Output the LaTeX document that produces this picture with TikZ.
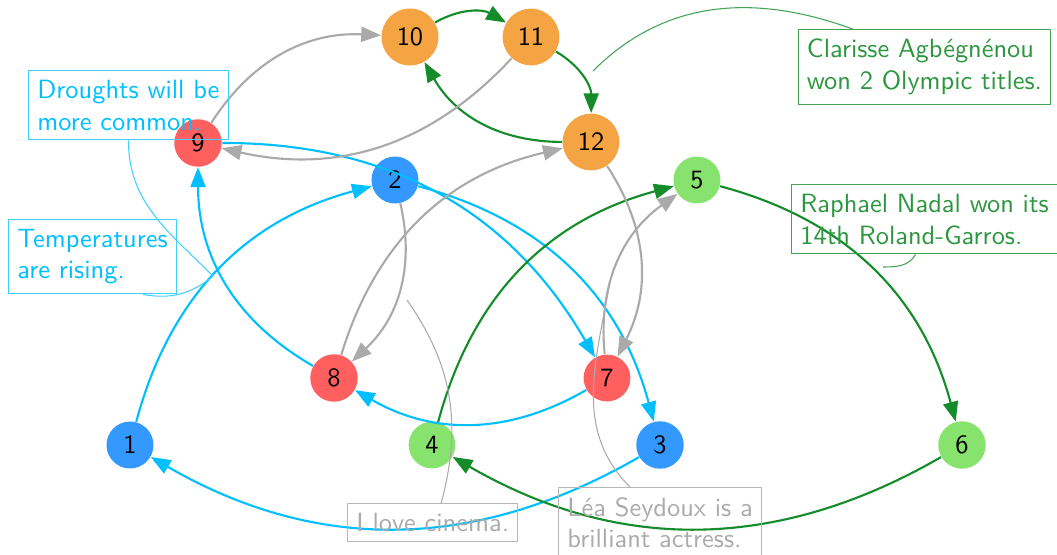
\documentclass[tikz,border=0pt]{standalone}
\usetikzlibrary{arrows.meta}
\definecolor{nblue}{RGB}{51,153,255}
\definecolor{ngreen}{RGB}{135,226,110}
\definecolor{nred}{RGB}{255,95,95}
\definecolor{norange}{RGB}{244,164,66}
\definecolor{ecyan}{RGB}{0,191,255}
\definecolor{egreen}{RGB}{20,140,42}
\definecolor{egray}{RGB}{170,170,170}
\begin{document}
\begin{tikzpicture}[x=0.3788pt,y=0.3788pt,
  vert/.style={circle,inner sep=3.35pt,font=\sffamily},
  edgebase/.style={line width=0.8pt,-{Triangle[length=7.5pt,width=5.7pt]}},
  ecy/.style={edgebase,draw=ecyan},
  egr/.style={edgebase,draw=egreen},
  egy/.style={edgebase,draw=egray},
  note/.style={draw,line width=0.45pt,align=left,inner xsep=3.33pt,inner ysep=3.6pt,
    font=\sffamily,anchor=north west},
  notecy/.style={note,draw=ecyan!75,text=ecyan},
  notegr/.style={note,draw=egreen!80,text=egreen!90},
  notegy/.style={note,draw=egray!85,text=egray},
  pl/.style={line width=0.4pt}]
\useasboundingbox (0,0) rectangle (1057,-555);
% vertices
\node[vert,fill=nblue] (n1) at (130,-445) {1};
\node[vert,fill=nblue] (n2) at (395,-180) {2};
\node[vert,fill=nblue] (n3) at (660,-445) {3};
\node[vert,fill=ngreen] (n4) at (432,-445) {4};
\node[vert,fill=ngreen] (n5) at (697,-180) {5};
\node[vert,fill=ngreen] (n6) at (962,-445) {6};
\node[vert,fill=nred] (n7) at (607,-378) {7};
\node[vert,fill=nred] (n8) at (334,-378) {8};
\node[vert,fill=nred] (n9) at (198,-143) {9};
\node[vert,fill=norange] (n10) at (410,-37) {10};
\node[vert,fill=norange] (n11) at (531,-37) {11};
\node[vert,fill=norange] (n12) at (591,-142) {12};
% edges
\draw[ecy] (n1) to[bend left] (n2);
\draw[ecy] (n2) to[bend left] (n3);
\draw[ecy] (n3) to[bend left] (n1);
\draw[ecy] (n7) to[bend left] (n8);
\draw[ecy] (n8) to[bend left] (n9);
\draw[ecy] (n9) to[bend left] (n7);
\draw[egr] (n4) to[bend left] (n5);
\draw[egr] (n5) to[bend left] (n6);
\draw[egr] (n6) to[bend left] (n4);
\draw[egr] (n10) to[bend left] (n11);
\draw[egr] (n11) to[bend left] (n12);
\draw[egr] (n12) to[bend left] (n10);
\draw[egy] (n9) to[bend left] (n10);
\draw[egy] (n11) to[bend left] (n9);
\draw[egy] (n2) to[bend left] (n8);
\draw[egy] (n8) to[bend left] (n12);
\draw[egy] (n12) to[bend left] (n7);
\draw[egy] (n7) to[bend left] (n5);
% notes
\node[notecy] (dr) at (28,-70) {Droughts will be\\more common.};
\node[notecy] (te) at (8,-219) {Temperatures\\are rising.};
\node[notegr] (cl) at (797.5,-29) {Clarisse Agbégnénou\\won 2 Olympic titles.};
\node[notegr] (na) at (791,-184) {Raphael Nadal won its\\14th Roland-Garros.};
\node[notegy] (ci) at (347,-503) {I love cinema.};
\node[notegy] (le) at (558,-487) {Léa Seydoux is a\\brilliant actress.};
% note pointers
\coordinate (p1) at (213,-276);
\coordinate (p2) at (593,-71);
\coordinate (p3) at (883,-267);
\coordinate (p4) at (407,-300);
\coordinate (p5) at (610,-282);
\draw[pl,draw=ecyan!75] (dr.south) to[out=-90,in=135] (p1);
\draw[pl,draw=ecyan!75] ([xshift=19.1pt]te.south) to[out=-10,in=-140] (p1);
\draw[pl,draw=egreen!80] ([xshift=-27.2pt]cl.north) to[out=160,in=45] (p2);
\draw[pl,draw=egreen!80] ([xshift=-3.4pt]na.south) to[out=-120,in=0] (p3);
\draw[pl,draw=egray] ([xshift=3.2pt]ci.north) to[out=75,in=-55] (p4);
\draw[pl,draw=egray] ([xshift=-11.4pt]le.north) to[out=135,in=-100] (p5);
\end{tikzpicture}
\end{document}
